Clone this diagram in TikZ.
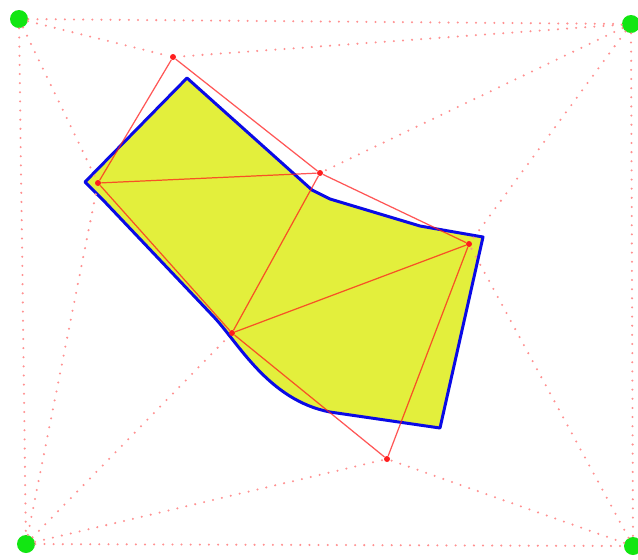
\documentclass[tikz,border=0pt]{standalone}
\usetikzlibrary{arrows.meta,positioning}
\definecolor{regionfill}{HTML}{E3EF3C}
\definecolor{outline}{HTML}{0A0AE6}
\definecolor{sitered}{HTML}{FF1E1E}
\definecolor{linkpink}{HTML}{FF9090}
\definecolor{cornergreen}{HTML}{12E612}

\begin{document}
\begin{tikzpicture}[x=0.02cm,y=-0.02cm,
 corner/.style={circle,fill=cornergreen,inner sep=0pt,minimum size=0.36cm},
 site/.style={circle,fill=sitered,inner sep=0pt,minimum size=0.12cm},
 region/.style={fill=regionfill,draw=outline,line width=1.7pt,line join=round},
 tri/.style={draw=sitered,draw opacity=0.75,line width=0.7pt},
 link/.style={draw=linkpink,line width=1.3pt,line cap=round,dash pattern=on 0pt off 5.2pt}]
\useasboundingbox (0,0) rectangle (638,559);
\fill[white] (0,0) rectangle (638,559);
% the shaded region
\draw[region] (187,78) -- (312,190) -- (330,199) -- (420,226) -- (483,237) -- (440,428)
 -- (330,412) .. controls (268,400) and (238,342) .. (213,316)
 -- (104,201) -- (85,182) -- cycle;
% frame corners
\node[corner] (tl) at (19,19) {};
\node[corner] (tr) at (631,24) {};
\node[corner] (bl) at (26,544) {};
\node[corner] (br) at (633,546) {};
% sites
\node[site] (a) at (173,57) {};
\node[site] (b) at (98,183) {};
\node[site] (c) at (320,173) {};
\node[site] (d) at (469,244) {};
\node[site] (e) at (232,333) {};
\node[site] (f) at (387,459) {};
% outer links
\foreach \u/\v in {tl/tr,tl/a,tl/b,tl/bl,tr/a,tr/c,tr/d,tr/br,bl/b,bl/e,bl/f,bl/br,br/f,br/d}
 \draw[link] (\u) -- (\v);
% triangulation
\foreach \u/\v in {a/b,a/c,b/c,c/d,c/e,b/e,e/d,e/f,d/f}
 \draw[tri] (\u) -- (\v);
\end{tikzpicture}
\end{document}
